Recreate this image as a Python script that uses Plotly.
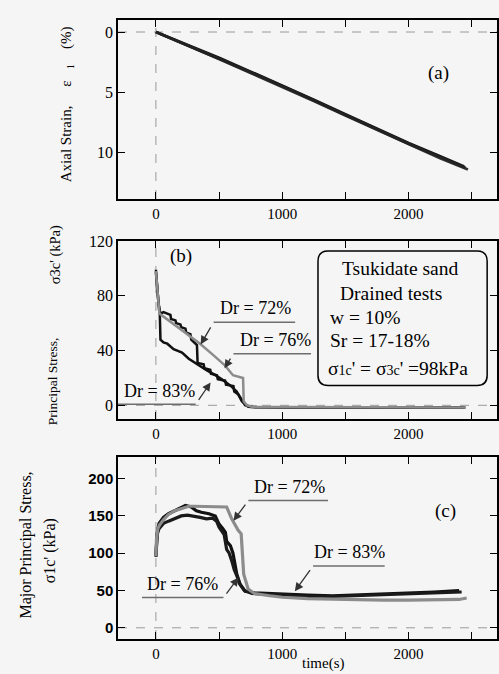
import plotly.graph_objects as go

# ---------------- data ----------------
# (a) axial strain (%) vs time (s)
t_a72 = [0, 250, 500, 750, 1000, 1250, 1500, 1750, 2000, 2250, 2450]
e_a72 = [0, 1.1, 2.2, 3.35, 4.5, 5.7, 6.9, 8.1, 9.3, 10.4, 11.3]
t_a76 = [0, 250, 500, 750, 1000, 1250, 1500, 1750, 2000, 2250, 2470]
e_a76 = [0, 1.1, 2.25, 3.4, 4.55, 5.75, 6.95, 8.15, 9.35, 10.5, 11.45]
t_a83 = [0, 250, 500, 750, 1000, 1250, 1500, 1750, 2000, 2250, 2440]
e_a83 = [0, 1.05, 2.15, 3.3, 4.45, 5.65, 6.85, 8.05, 9.25, 10.35, 11.2]

# (b) sigma3c' (kPa) vs time (s)
t_b72 = [0, 10, 28, 50, 100, 200, 300, 352, 450, 548, 610, 690, 695, 720, 760, 800, 1000, 1500, 2000, 2450]
s_b72 = [98, 84, 67, 65.5, 62, 55, 48, 44.8, 37, 29, 22, 20, 3, 0, -1, -1.2, -1.3, -1.4, -1.5, -1.6]
t_b76 = [0, 10, 25, 40, 60, 115, 120, 155, 160, 194, 200, 234, 240, 273, 280, 325, 330, 378, 384,
         430, 436, 483, 490, 548, 555, 614, 620, 653, 706, 740, 800, 1000, 1500, 2000, 2440]
s_b76 = [97, 84, 70, 67, 68, 66, 63, 62, 60, 59, 57, 56, 53, 52, 48, 44, 31, 30, 27,
         26, 23, 22, 19, 18, 15, 14, 10, 8, 0, -1, -1.3, -1.4, -1.5, -1.5, -1.6]
t_b83 = [0, 8, 20, 30, 36, 60, 90, 140, 207, 260, 339, 404, 470, 522, 588, 640, 680, 732, 800, 1000, 1500, 2000, 2450]
s_b83 = [99, 88, 75, 70, 48, 46, 45, 41, 38.5, 34, 29, 25.5, 22, 19, 14.5, 10, 3, -1, -1.5, -1.5, -1.5, -1.6, -1.6]

# (c) sigma1c' (kPa) vs time (s)
t_c72 = [0, 5, 15, 30, 60, 100, 150, 200, 260, 300, 400, 500, 560, 600, 650, 675, 685, 695, 730, 780, 900,
         1000, 1200, 1400, 1600, 1800, 2000, 2200, 2400, 2460]
s_c72 = [96, 120, 133, 138, 145, 152, 157, 160, 163, 163, 163, 163, 162, 146, 131, 126, 90, 72, 52, 46, 43,
         41, 39, 38, 37, 37, 37, 37, 38, 40]
t_c76 = [0, 10, 25, 60, 100, 150, 200, 250, 300, 350, 400, 450, 480, 500, 520, 540, 560, 580, 600, 620, 640,
         660, 700, 760, 900, 1000, 1200, 1400, 1600, 1800, 2000, 2200, 2420]
s_c76 = [95, 125, 133, 140, 143, 147, 150, 151, 150, 148, 146, 147, 143, 135, 130, 125, 105, 100, 90, 78, 70,
         60, 50, 46, 45, 44, 42, 42, 43, 44, 45, 46, 48]
t_c83 = [0, 10, 25, 60, 100, 180, 234, 280, 320, 360, 420, 470, 500, 530, 550, 560, 590, 610, 640, 667, 706,
         780, 900, 1000, 1200, 1400, 1600, 1800, 2000, 2200, 2400]
s_c83 = [96, 128, 140, 148, 153, 160, 164, 162, 157, 155, 153, 150, 139, 133, 128, 116, 110, 100, 72, 58, 49,
         47, 46, 45, 44, 43, 44, 45, 46, 48, 50]

x_ticks = [0, 500, 1000, 1500, 2000, 2500]
x_ticktext = ["0", " ", "1000", " ", "2000", " "]
ya_ticks = [0, 5, 10]
yb_ticks = [0, 40, 80, 120]
yc_ticks = [0, 50, 100, 150, 200]

# ---------------- styling ----------------
W, H = 499, 674
ML, MR, MT, MB = 118, 0, 20, 35
PW, PH = W - ML - MR, H - MT - MB
BLACK = "#111111"
GREY = "#8c8c8c"
LEAD = "#6e6e6e"
SERIF = "Liberation Serif, Times New Roman, serif"
BG = "#f5f5f5"


def px2paper(px):
    return (px - ML) / PW


def py2paper(py):
    return (H - MB - py) / PH


fig = go.Figure()

panels = [
    ("x", "y", 2.8, [(t_a83, e_a83, BLACK), (t_a76, e_a76, "#333333"), (t_a72, e_a72, "#222222")]),
    ("x2", "y2", 2.5, [(t_b83, s_b83, BLACK), (t_b76, s_b76, BLACK), (t_b72, s_b72, GREY)]),
    ("x3", "y3", 3.2, [(t_c83, s_c83, BLACK), (t_c76, s_c76, "#1a1a1a"), (t_c72, s_c72, GREY)]),
]
for xa, ya, lw, series in panels:
    for tx, vy, col in series:
        fig.add_trace(go.Scatter(x=tx, y=vy, mode="lines", xaxis=xa, yaxis=ya,
                                 line=dict(color=col, width=lw), showlegend=False,
                                 hoverinfo="skip"))

common_x = dict(range=[-300, 2700], tickvals=x_ticks, ticktext=x_ticktext, ticks="inside",
                ticklen=7, tickwidth=1.2, tickcolor="black", showline=True, linecolor="black",
                linewidth=1.5, mirror="ticks", showgrid=False, zeroline=False,
                tickfont=dict(family=SERIF, size=15, color="black"))
common_y = dict(ticks="inside", ticklen=7, tickwidth=1.2, tickcolor="black", showline=True,
                linecolor="black", linewidth=1.5, mirror="ticks", showgrid=False, zeroline=False,
                tickfont=dict(family=SERIF, size=16, color="black"))
ytick_c = dict(family="Liberation Sans Narrow, Arial Narrow, Liberation Sans, sans-serif",
               size=15, color="black", weight="bold")

fig.update_layout(
    width=W, height=H, margin=dict(l=ML, r=MR, t=MT, b=MB),
    paper_bgcolor=BG, plot_bgcolor=BG,
    xaxis=dict(domain=[0, 1], anchor="y", **common_x),
    xaxis2=dict(domain=[0, 1], anchor="y2", **common_x),
    xaxis3=dict(domain=[0, 1], anchor="y3", **common_x),
    yaxis=dict(domain=[py2paper(199), 1], anchor="x", range=[13.9, -1], tickvals=ya_ticks, **common_y),
    yaxis2=dict(domain=[py2paper(419), py2paper(241)], anchor="x2", range=[-10, 120],
                tickvals=yb_ticks, **common_y),
    yaxis3=dict(domain=[0, py2paper(457)], anchor="x3", range=[-15, 229], tickvals=yc_ticks,
                **{k: v for k, v in common_y.items() if k != "tickfont"}, tickfont=ytick_c),
)

# dashed reference lines
for xa, ya in [("x", "y"), ("x2", "y2"), ("x3", "y3")]:
    fig.add_shape(type="line", xref=xa, yref=ya + " domain", x0=0, x1=0, y0=0, y1=1,
                  line=dict(color="#9a9a9a", width=1, dash="dash"), layer="below")
    fig.add_shape(type="line", xref=xa + " domain", yref=ya, x0=0, x1=1, y0=0, y1=0,
                  line=dict(color="#9a9a9a", width=1, dash="dash"), layer="below")

ann = []
# panel letters
ann.append(dict(x=2236, y=3.4, xref="x", yref="y", text="(a)", showarrow=False,
                font=dict(family=SERIF, size=19, color="black")))
ann.append(dict(x=197, y=109, xref="x2", yref="y2", text="(b)", showarrow=False,
                font=dict(family=SERIF, size=19, color="black")))
ann.append(dict(x=2291, y=157, xref="x3", yref="y3", text="(c)", showarrow=False,
                font=dict(family=SERIF, size=19, color="black")))

LABF = dict(family=SERIF, size=18, color="black")


def leader(xa, ya, text, tx, ty, u0, u1, uy, tail_x, tip_x, tip_y):
    ann.append(dict(x=tx, y=ty, xref=xa, yref=ya, text=text, showarrow=False, font=LABF,
                    yanchor="bottom"))
    fig.add_shape(type="line", xref=xa, yref=ya, x0=u0, x1=u1, y0=uy, y1=uy,
                  line=dict(color=LEAD, width=1.5))
    ann.append(dict(x=tip_x, y=tip_y, xref=xa, yref=ya, ax=tail_x, ay=uy, axref=xa, ayref=ya,
                    text=" ", showarrow=True, arrowhead=2, arrowsize=1.3, arrowwidth=1.3,
                    arrowcolor="#333333", standoff=0))


# panel (b) labels
leader("x2", "y2", "Dr = 72%", 790, 62, 457, 1102, 60.6, 457, 354, 44.4)
leader("x2", "y2", "Dr = 76%", 950, 39, 614, 1228, 37.6, 614, 543, 27)
leader("x2", "y2", "Dr = 83%", 30, 2, -307, 315, 0.7, 315, 433, 16.7)
# panel (c) labels
leader("x3", "y3", "Dr = 72%", 1060, 173, 732, 1362, 170.7, 732, 614, 143.6)
leader("x3", "y3", "Dr = 83%", 1535, 85, 1244, 1811, 82.8, 1244, 1100, 49)
leader("x3", "y3", "Dr = 76%", 210, 43, -110, 535, 40.5, 535, 654, 67.6)

# info box in panel (b)
x0, x1, y0, y1 = 1283, 2622, 14.5, 112.7
rx, ry = 80, 7.5
path = (f"M {x0+rx},{y1} L {x1-rx},{y1} Q {x1},{y1} {x1},{y1-ry} L {x1},{y0+ry} "
        f"Q {x1},{y0} {x1-rx},{y0} L {x0+rx},{y0} Q {x0},{y0} {x0},{y0+ry} "
        f"L {x0},{y1-ry} Q {x0},{y1} {x0+rx},{y1} Z")
fig.add_shape(type="path", xref="x2", yref="y2", path=path,
              line=dict(color="black", width=1.5), fillcolor=BG)
BOXF = dict(family=SERIF, size=19.5, color="black")
ann.append(dict(x=1929, y=99.6, xref="x2", yref="y2", text="Tsukidate sand", showarrow=False, font=BOXF))
ann.append(dict(x=1441, y=81.5, xref="x2", yref="y2", text="Drained tests", showarrow=False,
                font=BOXF, xanchor="left"))
ann.append(dict(x=1362, y=64, xref="x2", yref="y2", text="w = 10%", showarrow=False,
                font=BOXF, xanchor="left"))
ann.append(dict(x=1362, y=47, xref="x2", yref="y2", text="Sr = 17-18%", showarrow=False,
                font=BOXF, xanchor="left"))
ann.append(dict(x=1346, y=27, xref="x2", yref="y2",
                text="σ<span style='font-size:14px'>1c</span>' = σ<span style='font-size:14px'>3c</span>' =98kPa",
                showarrow=False, font=BOXF, xanchor="left"))


# axis titles
def ytitle(px, py, text, font):
    ann.append(dict(x=px2paper(px), y=py2paper(py), xref="paper", yref="paper", textangle=-90,
                    xanchor="center", yanchor="middle", text=text, showarrow=False, font=font))


ytitle(67, 104, "Axial Strain,     ε   <sub>1</sub>    (%)", dict(family=SERIF, size=15, color="black"))
ytitle(52, 381, "Principal Stress,", dict(family=SERIF, size=13.5, color="black"))
ytitle(55, 255, "σ3c' (kPa)", dict(family=SERIF, size=14.5, color="black"))
TF2 = dict(family=SERIF, size=16, color="black")
ytitle(26, 545, "Major Principal Stress,", TF2)
ytitle(50, 551, "σ1c' (kPa)", TF2)
ann.append(dict(x=px2paper(325), y=py2paper(663), xref="paper", yref="paper",
                xanchor="center", yanchor="middle",
                text="time(s)", showarrow=False, font=dict(family=SERIF, size=15, color="black")))

fig.update_layout(annotations=ann)
fig.write_html("out.html")
